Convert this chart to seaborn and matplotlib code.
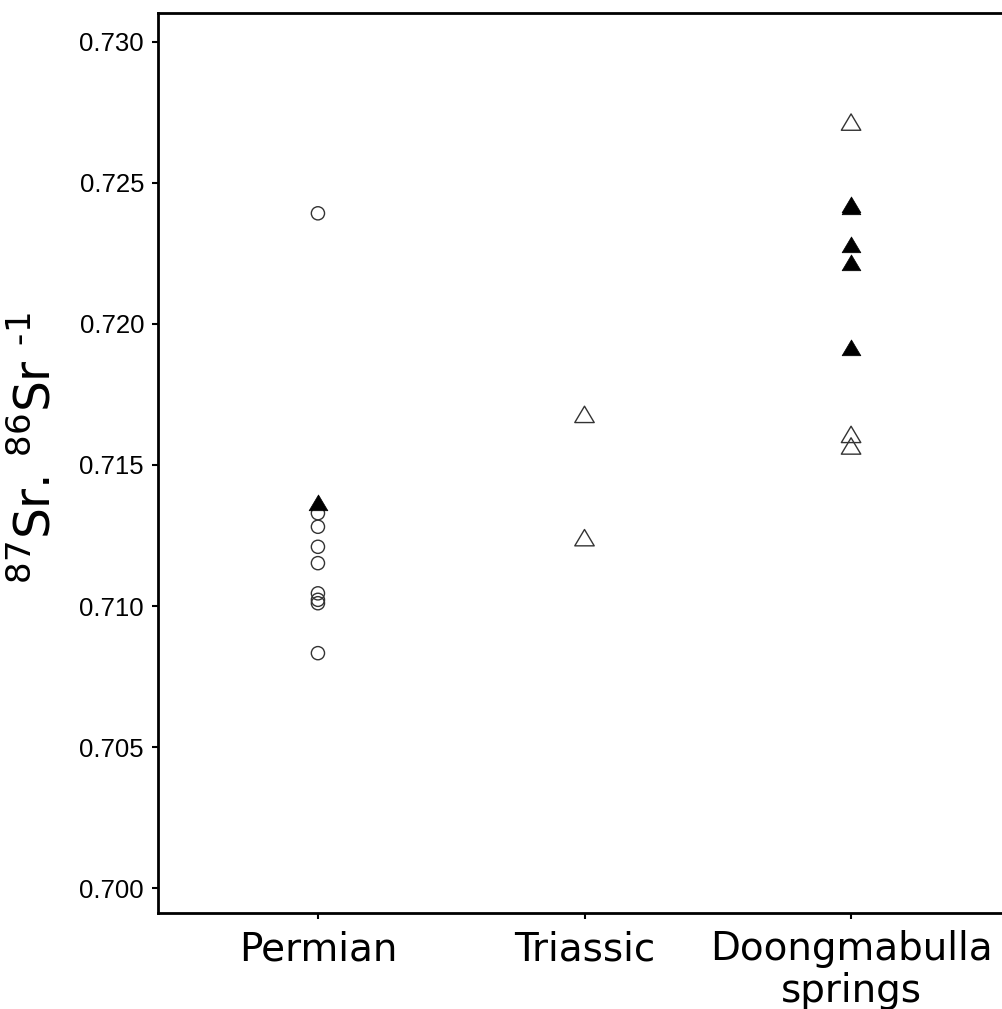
import pandas as pd
import matplotlib.pyplot as plt
from matplotlib.path import Path
import seaborn as sns

# groundwater source categories and their axis labels
categories = ["Permian", "Triassic", "Doongmabulla"]
tick_labels = ["Permian", "Triassic", "Doongmabulla\nsprings"]

# 87Sr/86Sr values
permian_open = [0.72392, 0.71329, 0.71281, 0.71210, 0.71152, 0.71045, 0.71022, 0.71010, 0.70833]
permian_filled = [0.71364]
triassic_open = [0.71677, 0.71240]
doong_open = [0.72713, 0.71606, 0.71565]
doong_filled = [0.72420, 0.72414, 0.72280, 0.72215, 0.71914]

y_ticks = [0.700, 0.705, 0.710, 0.715, 0.720, 0.725, 0.730]

rows = []
for src, vals, kind in [
    ("Permian", permian_open, "circle"),
    ("Permian", permian_filled, "tri_filled"),
    ("Triassic", triassic_open, "tri_open"),
    ("Doongmabulla", doong_open, "tri_open"),
    ("Doongmabulla", doong_filled, "tri_filled"),
]:
    for v in vals:
        rows.append({"source": src, "sr": v, "kind": kind})
df = pd.DataFrame(rows)

sns.set_theme(style="ticks")
plt.rcParams["font.family"] = ["DejaVu Sans"]

fig = plt.figure(figsize=(10.02, 10.09), dpi=100)
ax = fig.add_axes([158 / 1002, 96 / 1009, 853 / 1002, 900 / 1009])

# flatter, ggplot-like triangle (closed so the hollow one gets all 3 sides)
tri = Path([(0, 1), (-1.1, -0.85), (1.1, -0.85), (0, 1)], closed=True)
styles = {
    "circle": dict(marker="o", size=9.5, color="#333333", facecolor="none",
                   edgecolor="#333333", linewidth=1.0),
    "tri_open": dict(marker=tri, size=14, color="#333333", facecolor="none",
                     edgecolor="#333333", linewidth=1.0),
    "tri_filled": dict(marker=tri, size=13.5, color="black", edgecolor="black",
                       linewidth=0.5),
}
for kind, kw in styles.items():
    sub = df[df["kind"] == kind]
    sns.stripplot(data=sub, x="source", y="sr", order=categories, jitter=False,
                  ax=ax, **kw)

ax.set_xlim(-0.6, 2.6)
ax.set_ylim(0.69912, 0.73102)
ax.set_yticks(y_ticks)
ax.set_yticklabels([f"{t:.3f}" for t in y_ticks], family=["Liberation Sans", "DejaVu Sans"],
                   fontsize=18.5, color="black")
ax.set_xticks(range(len(categories)))
ax.set_xticklabels(tick_labels, fontsize=28, linespacing=1.12, color="black")
ax.set_xlabel("")
ax.set_ylabel("$^{87}$Sr. $^{86}$Sr $^{\u20101}$", fontsize=35, color="black")
ax.yaxis.set_label_coords(-0.114, 0.516)

for side in ["left", "bottom", "top", "right"]:
    ax.spines[side].set_linewidth(2)
    ax.spines[side].set_color("black")
ax.tick_params(axis="both", length=4.5, width=1.5, color="black")
ax.tick_params(axis="y", pad=5.5)
ax.tick_params(axis="x", pad=8)
ax.grid(False)

fig.savefig("out.png", dpi=100, facecolor="white")
